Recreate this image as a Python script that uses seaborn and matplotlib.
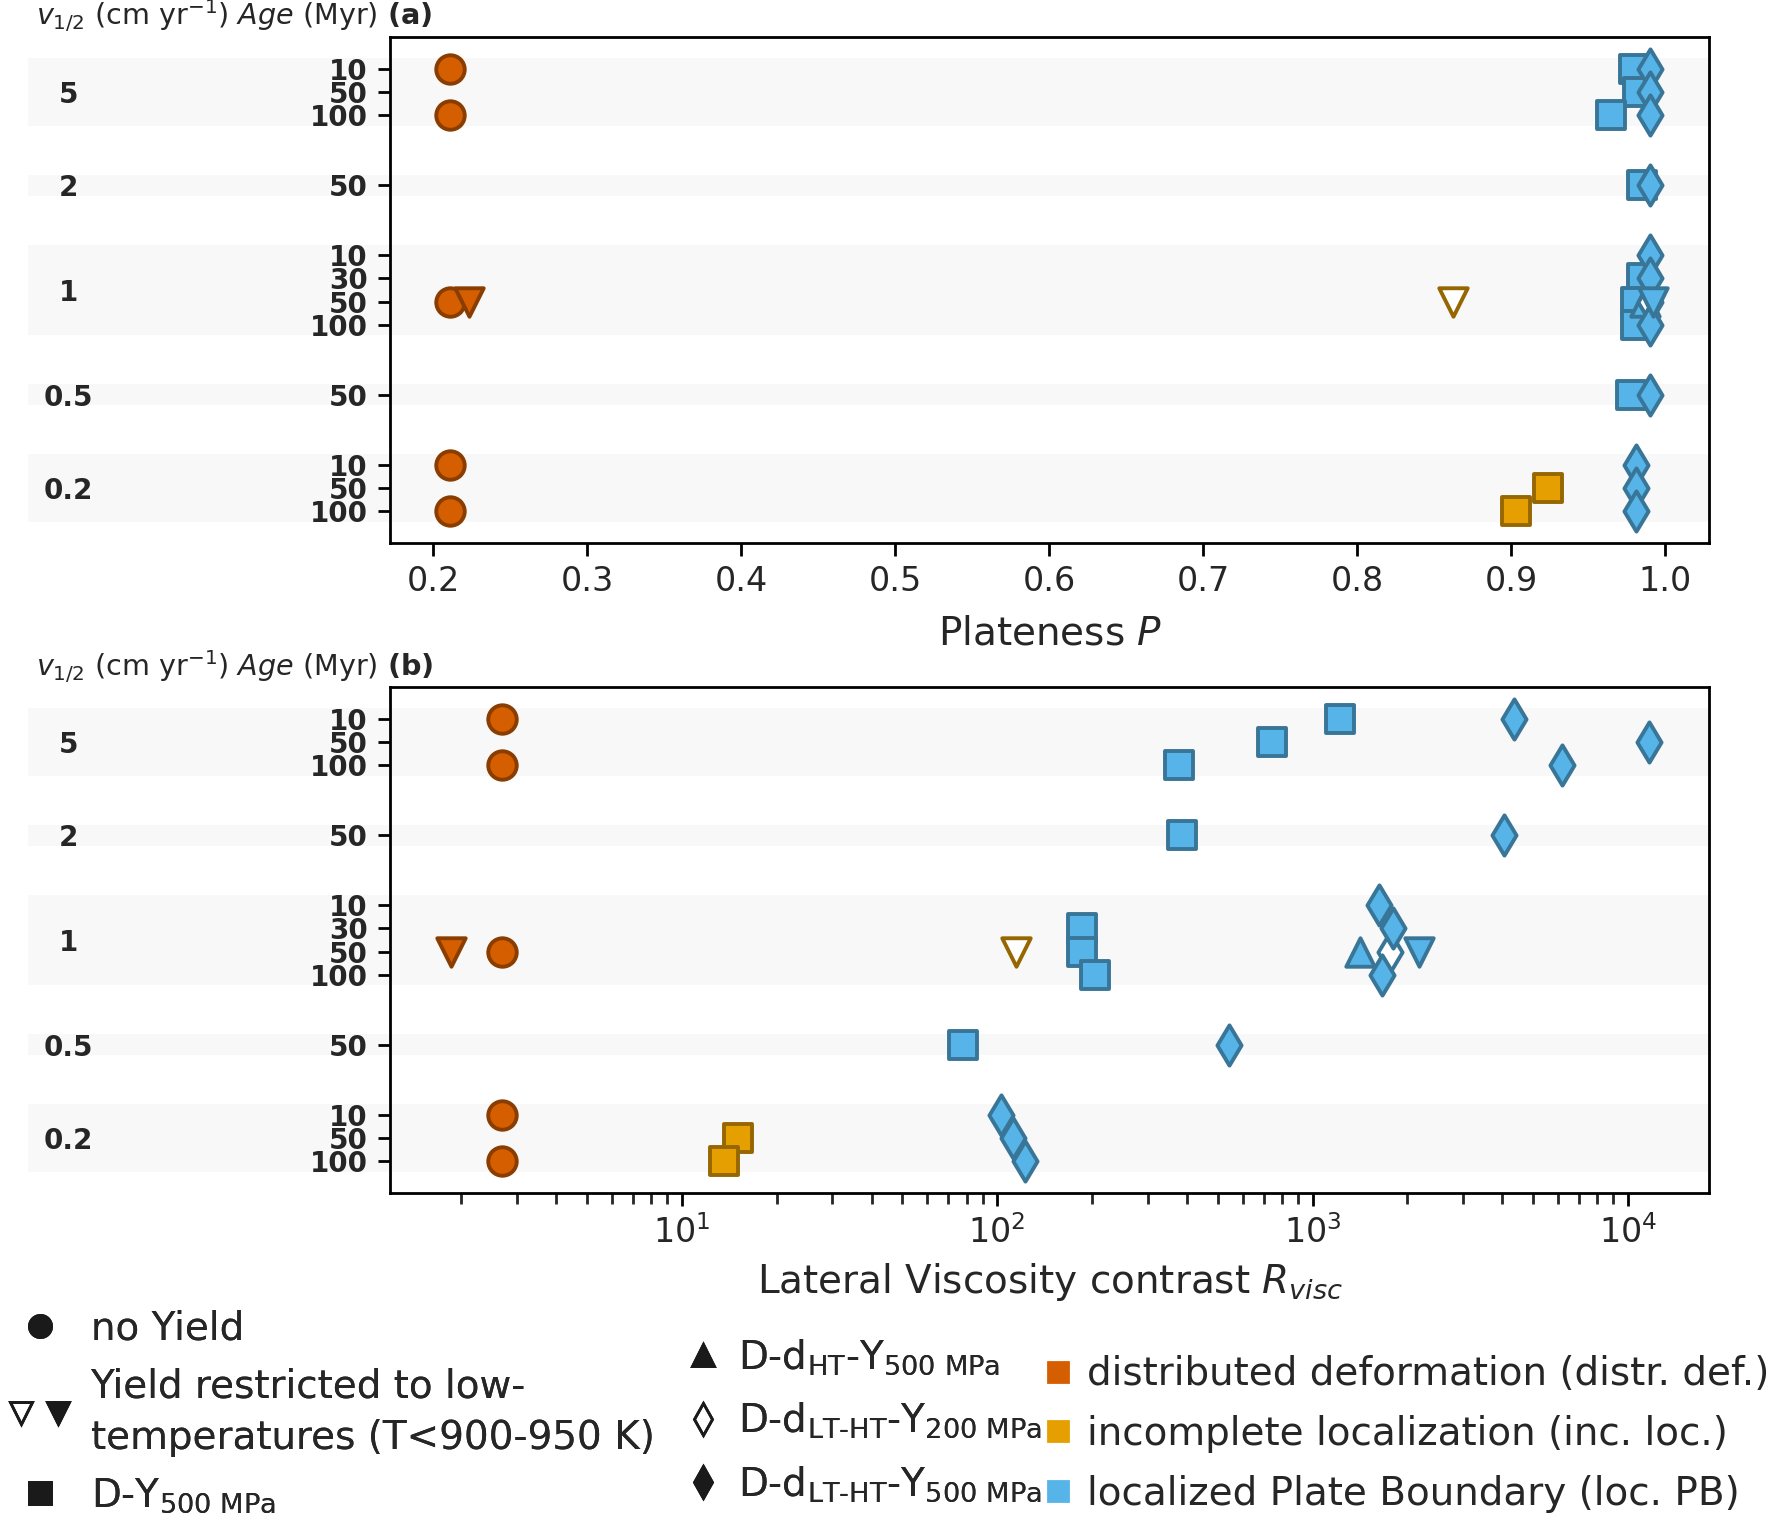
import matplotlib
matplotlib.use("Agg")
import numpy as np
import pandas as pd
import matplotlib.pyplot as plt
import matplotlib.transforms as mtransforms
import seaborn as sns
from matplotlib.lines import Line2D
from matplotlib.legend_handler import HandlerTuple

# ---------------- data ----------------
row_v = ["5", "5", "5", "2", "1", "1", "1", "1", "0.5", "0.2", "0.2", "0.2"]
row_age = ["10", "50", "100", "50", "10", "30", "50", "100", "50", "10", "50", "100"]
row_pos = [0, 1, 2, 5, 8, 9, 10, 11, 14, 17, 18, 19]
group_labels = ["5", "2", "1", "0.5", "0.2"]

pt_v = ["5", "5", "1", "0.2", "0.2",
        "1", "1",
        "5", "5", "5", "2", "1", "1", "1", "0.5", "0.2", "0.2",
        "1", "1",
        "5", "5", "5", "2", "1", "1", "1", "0.5", "0.2", "0.2", "0.2",
        "1"]
pt_age = ["10", "100", "50", "10", "100",
          "50", "50",
          "10", "50", "100", "50", "30", "50", "100", "50", "50", "100",
          "50", "50",
          "10", "50", "100", "50", "10", "30", "100", "50", "10", "50", "100",
          "50"]
pt_rheo = ["noY"] * 5 + ["YLT", "YLT"] + ["DY500"] * 10 + ["DdHT500", "DdLTHT200"] + ["DdLTHT500"] * 11 + ["YLT"]
pt_open = [False] * 5 + [False, True] + [False] * 10 + [False, True] + [False] * 11 + [False]
pt_regime = (["distr"] * 5 + ["distr", "inc"]
             + ["loc"] * 8 + ["inc", "inc"]
             + ["loc", "loc"] + ["loc"] * 11 + ["loc"])
pt_P = [0.211, 0.211, 0.211, 0.211, 0.211,
        0.2235, 0.862,
        0.980, 0.982, 0.965, 0.985, 0.985, 0.981, 0.981, 0.978, 0.924, 0.903,
        0.987, 0.990,
        0.990, 0.990, 0.990, 0.990, 0.990, 0.990, 0.990, 0.990, 0.981, 0.981, 0.981,
        0.992]
pt_R = [2.69, 2.69, 2.69, 2.69, 2.69,
        1.86, 115,
        1220, 743, 378, 387, 186, 186, 205, 78, 15.1, 13.6,
        1416, 1766,
        4350, 11700, 6190, 4060, 1626, 1795, 1655, 543, 103, 112, 123,
        2173]

face_col = {"distr": "#D55E00", "inc": "#E69F00", "loc": "#56B4E9"}
edge_col = {"distr": "#8A3D00", "inc": "#966700", "loc": "#387597"}
marker_map = {"noY": "o", "YLT": "v", "DY500": "s", "DdHT500": "^",
              "DdLTHT200": "d", "DdLTHT500": "d"}

# ---------------- style ----------------
sns.set_theme(style="ticks")
plt.rcParams["font.family"] = ["DejaVu Sans"]
plt.rcParams["mathtext.fontset"] = "dejavusans"

fig = plt.figure(figsize=(8.86, 7.58), dpi=200)
axA = fig.add_axes([0.2201, 0.6418, 0.7445, 0.3338])
axB = fig.add_axes([0.2201, 0.2131, 0.7445, 0.3337])

df = pd.DataFrame(dict(v=pt_v, age=pt_age, rheo=pt_rheo, regime=pt_regime,
                       open=pt_open, P=pt_P, R=pt_R))
pos_map = {(v, a): p for v, a, p in zip(row_v, row_age, row_pos)}
df["y"] = [pos_map[(v, a)] for v, a in zip(df.v, df.age)]

combos = list(dict.fromkeys(zip(df.rheo, df.open, df.regime)))
for ax, xcol in [(axA, "P"), (axB, "R")]:
    for i, (rh, op, rg) in enumerate(combos):
        sub = df[(df.rheo == rh) & (df.open == op) & (df.regime == rg)]
        face = "white" if op else face_col[rg]
        sns.scatterplot(data=sub, x=xcol, y="y", ax=ax, marker=marker_map[rh],
                        s=105, color=face, edgecolor=edge_col[rg], linewidth=1.4,
                        zorder=3 + i, legend=False)

axB.set_xscale("log")
axA.set_xlim(0.172, 1.0286)
axA.set_xticks(np.round(np.arange(0.2, 1.01, 0.1), 1))
axB.set_xlim(10 ** 0.075, 10 ** 4.258)

for ax in (axA, axB):
    ax.set_ylim(20.36, -1.36)
    ax.set_yticks(row_pos)
    ax.set_yticklabels(row_age, fontweight="bold", fontsize=10)
    ax.set_ylabel("")
    for sp in ax.spines.values():
        sp.set_visible(True)
        sp.set_color("black")
        sp.set_linewidth(1.0)
    ax.tick_params(axis="both", which="major", direction="out", length=4.5,
                   width=1, color="black")
    ax.tick_params(axis="x", labelsize=12)
    trans = mtransforms.blended_transform_factory(ax.transAxes, ax.transData)
    for gl in group_labels:
        ps = [p for v, p in zip(row_v, row_pos) if v == gl]
        ax.axhspan(min(ps) - 0.45, max(ps) + 0.45, xmin=-0.2745, xmax=1.0,
                   color="#f8f8f8", lw=0, zorder=0, clip_on=False)
        ax.text(-0.244, np.mean(ps), gl, transform=trans, ha="center",
                va="center_baseline", fontweight="bold", fontsize=10)

axA.set_xlabel("Plateness $P$", fontsize=14, labelpad=6)
axB.set_xlabel(r"Lateral Viscosity contrast $R_{visc}$", fontsize=14)

hdr = r"$\mathit{v_{1/2}}$ (cm yr$^{\mathrm{-1}}$) $\mathit{Age}$ (Myr) $\mathbf{(%s)}$"
fig.text(0.0203, 0.9894, hdr % "a", fontsize=10.3, va="center", ha="left")
fig.text(0.0203, 0.5600, hdr % "b", fontsize=10.3, va="center", ha="left")

# ---------------- legends ----------------
ms = 8
h_noY = Line2D([], [], marker="o", ls="none", color="k", markersize=ms)
h_open = Line2D([], [], marker="v", ls="none", mfc="none", mec="k", markersize=ms)
h_fill = Line2D([], [], marker="v", ls="none", color="k", markersize=ms)
h_sq = Line2D([], [], marker="s", ls="none", color="k", markersize=ms)
leg1 = fig.legend([h_noY, (h_open, h_fill), h_sq],
                  ["no Yield", "Yield restricted to low-\ntemperatures (T<900-950 K)",
                   r"D-Y$_{\rm 500\ MPa}$"],
                  handler_map={tuple: HandlerTuple(ndivide=None, pad=0.3)},
                  loc="upper left", bbox_to_anchor=(0.005, 0.136), frameon=False,
                  fontsize=14, handlelength=1.6, handletextpad=0.5,
                  labelspacing=0.5, borderaxespad=0, borderpad=0)
leg1.get_texts()[1].set_linespacing(1.45)
fig.add_artist(leg1)

h_up = Line2D([], [], marker="^", ls="none", color="k", markersize=ms)
h_dopen = Line2D([], [], marker="d", ls="none", mfc="none", mec="k", markersize=ms)
h_dfill = Line2D([], [], marker="d", ls="none", color="k", markersize=ms)
leg2 = fig.legend([h_up, h_dopen, h_dfill],
                  [r"D-d$_{\rm HT}$-Y$_{\rm 500\ MPa}$",
                   r"D-d$_{\rm LT‐HT}$-Y$_{\rm 200\ MPa}$",
                   r"D-d$_{\rm LT‐HT}$-Y$_{\rm 500\ MPa}$"],
                  loc="upper left", bbox_to_anchor=(0.386, 0.118), frameon=False,
                  fontsize=14, handlelength=1.0, handletextpad=0.4,
                  labelspacing=0.62, borderaxespad=0, borderpad=0)
fig.add_artist(leg2)

h_c = [Line2D([], [], marker="s", ls="none", color=face_col[k], markersize=7)
       for k in ["distr", "inc", "loc"]]
leg3 = fig.legend(h_c,
                  ["distributed deformation (distr. def.)",
                   "incomplete localization (inc. loc.)",
                   "localized Plate Boundary (loc. PB)"],
                  loc="upper left", bbox_to_anchor=(0.586, 0.106), frameon=False,
                  fontsize=14, handlelength=1.0, handletextpad=0.25,
                  labelspacing=0.56, borderaxespad=0, borderpad=0)

fig.savefig("out.png", dpi=200)
